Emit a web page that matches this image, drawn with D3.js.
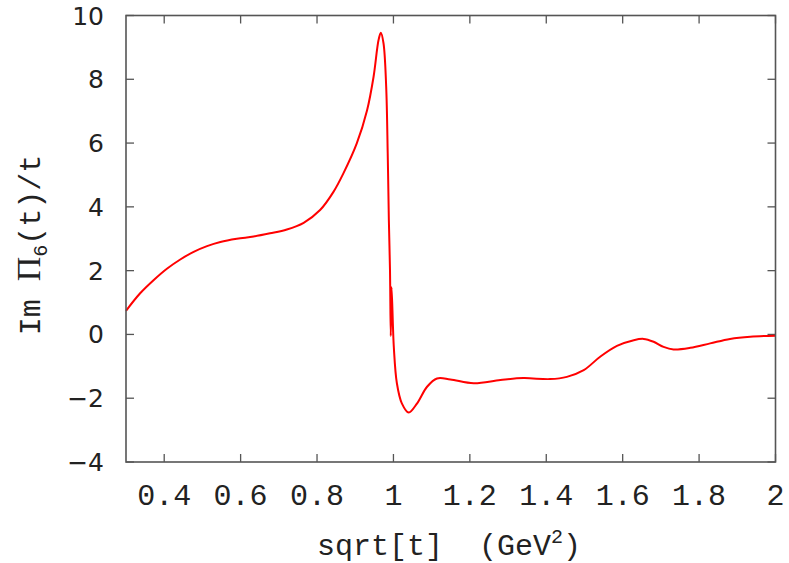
<!DOCTYPE html>
<html>
<head>
<meta charset="utf-8">
<script src="https://cdn.jsdelivr.net/npm/d3@7"></script>
<style>
  html, body { margin: 0; padding: 0; background: #fff; }
  svg { display: block; }
</style>
</head>
<body>
<svg id="chart" width="789" height="563"></svg>
<script>
// sqrt(t) in GeV and Im Pi_6(t)/t
const sqrtT = [
  0.300, 0.337, 0.372, 0.407, 0.442, 0.477, 0.512, 0.547, 0.590, 0.634,
  0.677, 0.721, 0.765, 0.808, 0.843, 0.869, 0.904, 0.931, 0.948, 0.961,
  0.967, 0.974, 0.981, 0.985, 0.988, 0.991, 0.993, 0.995, 1.001,
  1.009, 1.022, 1.040, 1.062, 1.088, 1.114, 1.149, 1.210, 1.280, 1.340,
  1.410, 1.454, 1.498, 1.541, 1.585, 1.629, 1.655, 1.681, 1.707, 1.733,
  1.777, 1.829, 1.881, 1.934, 2.000
];
const imPi6 = [
  0.74, 1.29, 1.70, 2.06, 2.35, 2.59, 2.77, 2.90, 3.00, 3.07,
  3.17, 3.29, 3.50, 3.90, 4.47, 5.05, 5.99, 7.03, 8.08, 9.23,
  9.46, 9.13, 7.77, 5.68, 3.59, 2.00, -0.05, 1.48, -0.40,
  -1.53, -2.16, -2.45, -2.16, -1.64, -1.38, -1.41, -1.53, -1.43, -1.37,
  -1.40, -1.33, -1.12, -0.70, -0.36, -0.18, -0.14, -0.23, -0.39, -0.47,
  -0.42, -0.28, -0.14, -0.07, -0.04
];
const xTicks = [0.4, 0.6, 0.8, 1.0, 1.2, 1.4, 1.6, 1.8, 2.0];
const xTickLabels = ["0.4", "0.6", "0.8", "1", "1.2", "1.4", "1.6", "1.8", "2"];
const yTicks = [-4, -2, 0, 2, 4, 6, 8, 10];
const yTickLabels = ["\u22124", "\u22122", "0", "2", "4", "6", "8", "10"];

const svg = d3.select("#chart");
const plotLeft = 126, plotRight = 775.5, plotTop = 15.5, plotBottom = 462;

const x = d3.scaleLinear().domain([0.3, 2.0]).range([plotLeft, plotRight]);
const y = d3.scaleLinear().domain([-4, 10]).range([plotBottom, plotTop]);

const frameColor = "#555";
const tickLen = 8;
const mono = "'Liberation Mono', 'Courier New', monospace";
const sans = "'DejaVu Sans', sans-serif";

// inward ticks on all four sides
const g = svg.append("g");
xTicks.forEach(v => {
  g.append("line").attr("x1", x(v)).attr("x2", x(v)).attr("y1", plotBottom).attr("y2", plotBottom - tickLen)
    .attr("stroke", frameColor).attr("stroke-width", 1.3);
  g.append("line").attr("x1", x(v)).attr("x2", x(v)).attr("y1", plotTop).attr("y2", plotTop + tickLen)
    .attr("stroke", frameColor).attr("stroke-width", 1.3);
});
yTicks.forEach(v => {
  g.append("line").attr("x1", plotLeft).attr("x2", plotLeft + tickLen).attr("y1", y(v)).attr("y2", y(v))
    .attr("stroke", frameColor).attr("stroke-width", 1.3);
  g.append("line").attr("x1", plotRight).attr("x2", plotRight - tickLen).attr("y1", y(v)).attr("y2", y(v))
    .attr("stroke", frameColor).attr("stroke-width", 1.3);
});

// curve
const pts = sqrtT.map((t, i) => [t, imPi6[i]]);
const line = d3.line().x(d => x(d[0])).y(d => y(d[1])).curve(d3.curveCatmullRom.alpha(0.5));
svg.append("path").datum(pts)
  .attr("d", line)
  .attr("fill", "none")
  .attr("stroke", "#ff0000")
  .attr("stroke-width", 2)
  .attr("stroke-linejoin", "round");

// frame
svg.append("rect")
  .attr("x", plotLeft).attr("y", plotTop)
  .attr("width", plotRight - plotLeft).attr("height", plotBottom - plotTop)
  .attr("fill", "none").attr("stroke", frameColor).attr("stroke-width", 1.6);

// tick labels
svg.append("g").selectAll("text").data(xTicks).join("text")
  .attr("x", d => x(d)).attr("y", 505)
  .attr("text-anchor", "middle")
  .attr("font-family", mono).attr("font-size", 30)
  .attr("fill", "#222")
  .text((d, i) => xTickLabels[i]);

svg.append("g").selectAll("text").data(yTicks).join("text")
  .attr("x", 104).attr("y", d => y(d) + 9)
  .attr("text-anchor", "end")
  .attr("font-family", sans).attr("font-size", 25)
  .attr("fill", "#222")
  .text((d, i) => yTickLabels[i]);

// axis titles
const xt = svg.append("text")
  .attr("x", 449).attr("y", 555)
  .attr("text-anchor", "middle")
  .attr("font-family", mono).attr("font-size", 30)
  .attr("fill", "#222")
  .attr("xml:space", "preserve");
xt.append("tspan").text("sqrt[t]  (GeV");
xt.append("tspan").attr("dy", -12).attr("font-size", 20).text("2");
xt.append("tspan").attr("dy", 12).text(")");

const yt = svg.append("text")
  .attr("transform", "translate(40,245) rotate(-90)")
  .attr("text-anchor", "middle")
  .attr("font-family", mono).attr("font-size", 30)
  .attr("fill", "#222")
  .attr("xml:space", "preserve");
yt.append("tspan").text("Im ");
yt.append("tspan").attr("font-family", "'Liberation Serif', serif").attr("font-size", 34).text("\u03A0");
yt.append("tspan").attr("dy", 7).attr("font-size", 20).text("6");
yt.append("tspan").attr("dy", -7).text("(t)/t");
</script>
</body>
</html>
